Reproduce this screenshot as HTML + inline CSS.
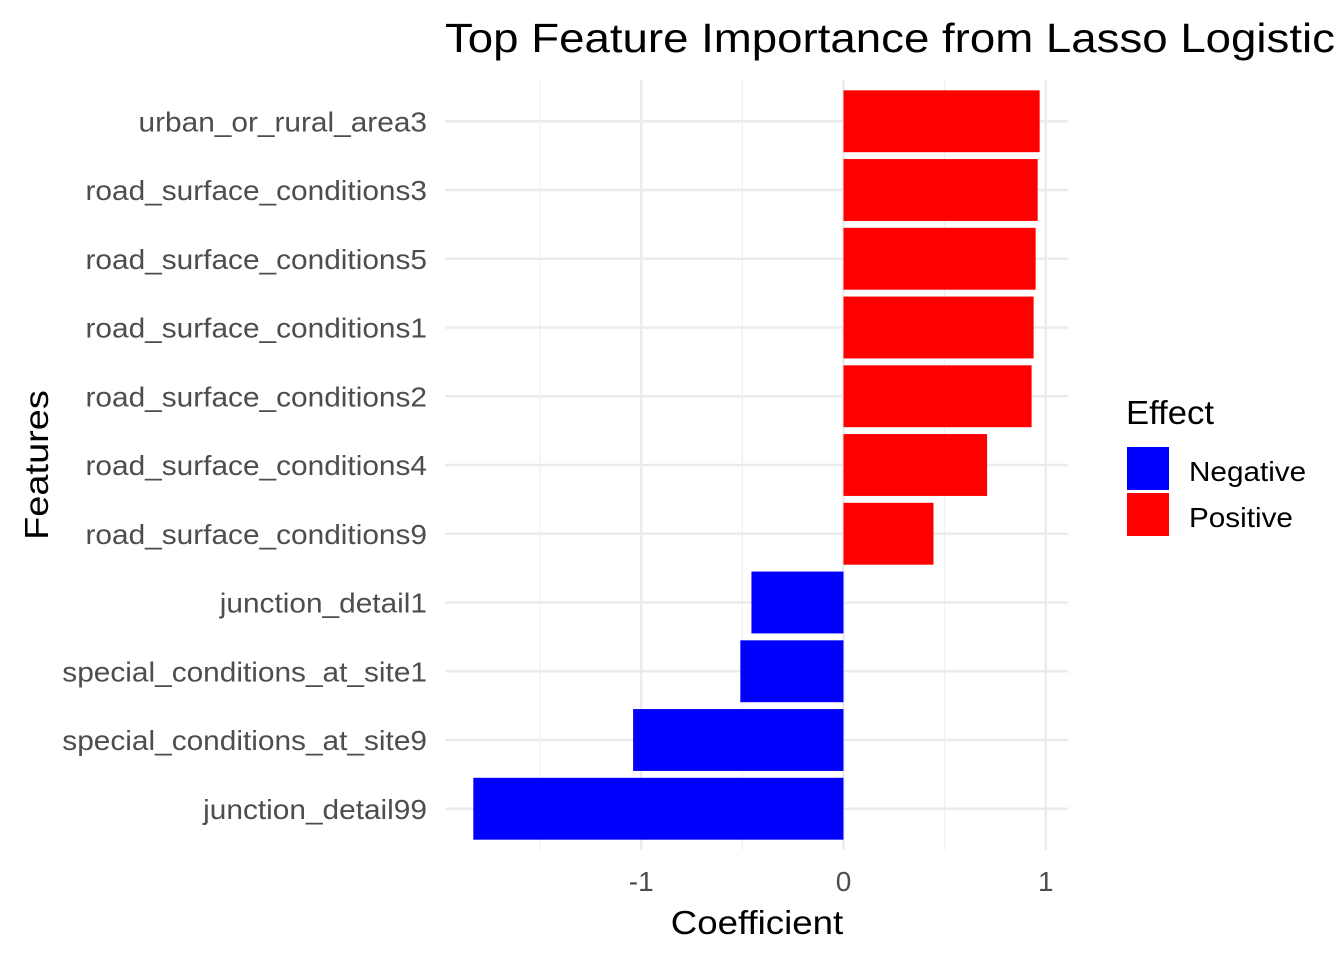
<!DOCTYPE html>
<html><head><meta charset="utf-8"><style>
html,body{margin:0;padding:0;background:#fff;}
svg{display:block;font-family:"Liberation Sans",Arial,sans-serif;}
</style></head><body>
<svg id="chart" width="1344" height="960" viewBox="0 0 1344 960">
<text x="445" y="52" font-size="41" fill="#000" textLength="890" lengthAdjust="spacingAndGlyphs">Top Feature Importance from Lasso Logistic</text>
<g id="grid"></g>
<g id="bars"></g>
<g id="ylabels"></g>
<g id="xlabels"></g>
<text class="st" data-s="1.11" x="757" y="934" font-size="33" text-anchor="middle" fill="#000">Coefficient</text>
<text class="st" data-s="1.15" transform="translate(48,465) rotate(-90)" font-size="33" text-anchor="middle" fill="#000">Features</text>
<g>
<text class="st" data-s="1.05" x="1126" y="424" font-size="33" fill="#000">Effect</text>
<rect x="1127" y="447" width="42" height="43" fill="#0000ff"/>
<text class="st" data-s="1.06" x="1189" y="481" font-size="28" fill="#000">Negative</text>
<rect x="1127" y="493" width="42" height="43" fill="#ff0000"/>
<text class="st" data-s="1.06" x="1189" y="527" font-size="28" fill="#000">Positive</text>
</g>
</svg>
<script>
const features = ["urban_or_rural_area3","road_surface_conditions3","road_surface_conditions5","road_surface_conditions1","road_surface_conditions2","road_surface_conditions4","road_surface_conditions9","junction_detail1","special_conditions_at_site1","special_conditions_at_site9","junction_detail99"];
const coefficients = [0.97,0.96,0.95,0.94,0.93,0.71,0.445,-0.455,-0.51,-1.04,-1.83];
const xTicks = [-1,0,1];
const xTickLabels = ["-1","0","1"];
const xMinorTicks = [-1.5,-0.5,0.5];

const NS="http://www.w3.org/2000/svg";
const panelL=445, panelR=1068, panelT=80, panelB=850;
const minV=Math.min(0,...coefficients), maxV=Math.max(0,...coefficients);
const pad=(maxV-minV)*0.05;
const x0=minV-pad, x1=maxV+pad;
function xs(v){return panelL+(v-x0)/(x1-x0)*(panelR-panelL);}
const n=features.length;
const step=(panelB-panelT)/(n+0.2);
function yc(i){return panelT+step*(0.6+i);}
function mk(tag,attrs,parent){const e=document.createElementNS(NS,tag);for(const k in attrs)e.setAttribute(k,attrs[k]);parent.appendChild(e);return e;}
const grid=document.getElementById('grid'),bars=document.getElementById('bars'),yl=document.getElementById('ylabels'),xl=document.getElementById('xlabels');
xMinorTicks.forEach(t=>{const l=mk('line',{x1:xs(t),x2:xs(t),y1:panelT,y2:panelB,stroke:'#f0f0f0','stroke-width':1.2},grid);

});
xTicks.forEach((t,i)=>{const l=mk('line',{x1:xs(t),x2:xs(t),y1:panelT,y2:panelB,stroke:'#ebebeb','stroke-width':2.4},grid);


const tx=mk('text',{x:xs(t),y:891,'font-size':28,'text-anchor':'middle',fill:'#4d4d4d'},xl);tx.textContent=xTickLabels[i];

});
features.forEach((f,i)=>{const y=yc(i);
const l=mk('line',{x1:panelL,x2:panelR,y1:y,y2:y,stroke:'#ebebeb','stroke-width':2.4},grid);


const v=coefficients[i];const h=step*0.9;
const r=mk('rect',{x:Math.min(xs(0),xs(v)),y:y-h/2,width:Math.abs(xs(v)-xs(0)),height:h,fill:v<0?'#0000ff':'#ff0000'},bars);


const tx=mk('text',{x:427,y:y+10,'font-size':28,'text-anchor':'end',fill:'#4d4d4d','class':'st','data-s':'1.065'},yl);tx.textContent=f;

});
document.querySelectorAll('.st').forEach(t=>{const s=parseFloat(t.getAttribute('data-s'));const w=t.getComputedTextLength();t.setAttribute('textLength',w*s);t.setAttribute('lengthAdjust','spacingAndGlyphs');});
</script>
</body></html>
